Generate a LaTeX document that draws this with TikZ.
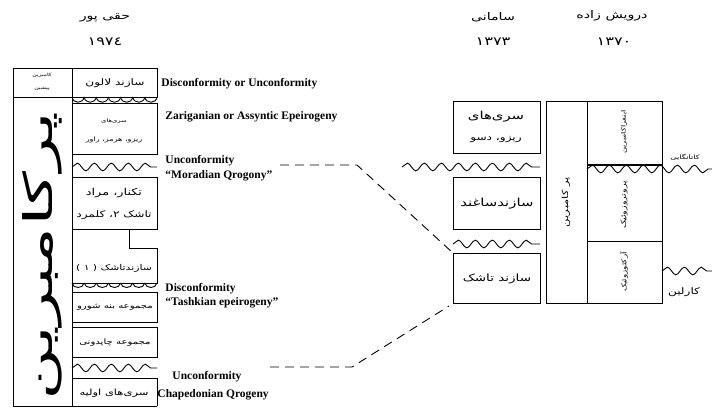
\documentclass[tikz,border=0pt]{standalone}
\usepackage{fontspec}
\usepackage{graphicx}
\usetikzlibrary{decorations.pathmorphing}
\TeXXeTstate=1
\newfontfamily\fa[Script=Arabic, FakeStretch=1.35]{DejaVu Sans}
\newfontfamily\fabig[Script=Arabic]{DejaVu Sans}
\newfontfamily\lat{Liberation Serif}
\newcommand\rtltext[1]{\beginR #1\endR}

\begin{document}
\begin{tikzpicture}[x=1pt,y=-1pt,
  line width=0.9pt,
  unitbox/.style={draw, line width=0.9pt, inner sep=0pt, anchor=north west},
  pers/.style={font=\fa\fontsize{#1}{#1}\selectfont, inner sep=0pt},
  eng/.style={font=\lat\bfseries\fontsize{11.5}{13}\selectfont, anchor=west, inner sep=0pt},
  wavy/.style={decorate, decoration={snake, segment length=17pt, amplitude=3.8pt}},
  dashline/.style={dash pattern=on 9pt off 6pt, line width=0.9pt},
]
\useasboundingbox (0,0) rectangle (712,409);

% ---------- column headings ----------
\node[pers=10.5] (h1) at (105,18) {\rtltext{حقی پور}};
\node[pers=12] (h2) at (105,42) {١٩٧٤};
\node[pers=10.5] (s1) at (493,17) {\rtltext{سامانی}};
\node[pers=12] (s2) at (493,42) {١٣٧٣};
\node[pers=10.5] (d1) at (612,16) {\rtltext{درویش زاده}};
\node[pers=12] (d2) at (614,42) {١٣٧٠};

% ---------- Haghipour column ----------
\draw (157,68) -- (13,68) -- (13,406) -- (157,406);
\draw (72,68) -- (72,406);
\draw (13,97) -- (72,97);
\node[pers=4.5] (kp1) at (42,75) {\rtltext{کامبرین}};
\node[pers=4.5] (kp2) at (42,89) {\rtltext{پیشین}};
\node[rotate=90, inner sep=0pt] (pcbig) at (42,256)
  {\resizebox{288pt}{30pt}{\fabig\rtltext{پرکامبرین}}};

\node[unitbox, minimum width=85, minimum height=29] (lalun) at (72,68) {};
\node[pers=9] at (lalun.center) {\rtltext{سازند لالون}};
% disconformity below Lalun
\foreach \x in {72,84.14,96.28,108.42,120.56,132.7,144.84}
  \draw (\x,97) .. controls (\x+1,104) and (\x+11.14,104) .. (\x+12.14,97);

\node[unitbox, minimum width=85, minimum height=51] (rizu) at (72,103) {};
\node[pers=5] at (114,121) {\rtltext{سری^^^^200cهای}};
\node[pers=6] at (114,140) {\rtltext{ریزو، هرمز، راور}};

\draw[wavy] (72,167) -- (157,167);

\node[unitbox, minimum width=85, minimum height=52] (taknar) at (72,177) {};
\node[pers=9.5] at (114,193) {\rtltext{تکنار، مراد}};
\node[pers=9] at (114,215) {\rtltext{تاشک ٢، کلمرد}};

\draw (129,229) -- (129,248) -- (157,248) -- (157,283) -- (72,283);
\coordinate (tashkL) at (114,268);
\node[pers=8] at (tashkL) {\rtltext{سازندتاشک ( ١ )}};
% disconformity below Tashk
\foreach \x in {72,84.14,96.28,108.42,120.56,132.7,144.84}
  \draw (\x,283) .. controls (\x+1,289) and (\x+11.14,289) .. (\x+12.14,283);

\node[unitbox, minimum width=85, minimum height=30] (boneh) at (72,292) {};
\node[pers=7.5] at (boneh.center) {\rtltext{مجموعه بنه شورو}};
\node[unitbox, minimum width=85, minimum height=30] (chaped) at (72,327) {};
\node[pers=7.5] at (chaped.center) {\rtltext{مجموعه چاپدونی}};

\draw[wavy] (72,368) -- (157,368);

\draw (72,378) -- (157,378) -- (157,406);
\node[pers=8.5] (avalie) at (114,393) {\rtltext{سری^^^^200cهای اولیه}};

% ---------- event labels ----------
\node[eng] (e1) at (161,84) {Disconformity or Unconformity};
\node[eng] (e2) at (165,117) {Zariganian or Assyntic Epeirogeny};
\node[eng] (e3) at (165,161) {Unconformity};
\node[eng] (e4) at (165,176) {“Moradian Qrogony”};
\node[eng] (e5) at (165,289) {Disconformity};
\node[eng] (e6) at (165,303) {“Tashkian epeirogeny”};
\node[eng] (e7) at (172,377) {Unconformity};
\node[eng] (e8) at (157,395) {Chapedonian Qrogeny};

% ---------- Samani column ----------
\node[unitbox, minimum width=87, minimum height=52] (rizuS) at (453,101) {};
\node[pers=11] at (496,117) {\rtltext{سری^^^^200cهای}};
\node[pers=9] at (496,140) {\rtltext{ریزو، دسو}};
\draw[wavy] (402,167) -- (540,167);
\node[unitbox, minimum width=87, minimum height=52] (saghand) at (453,177) {};
\node[pers=11] at (saghand.center) {\rtltext{سازندساغند}};
\draw[wavy] (453,244) -- (540,244);
\node[unitbox, minimum width=87, minimum height=50] (tashkS) at (453,253) {};
\node[pers=10] at (tashkS.center) {\rtltext{سازند تاشک}};

% correlation lines
\coordinate (m0) at (280,165);
\coordinate (m1) at (357,165);
\draw[dashline] (m0) -- (m1) -- (tashkS.north west);
\coordinate (c0) at (270,367);
\coordinate (c1) at (352,367);
\coordinate (c2) at (449,306);
\draw[dashline] (c0) -- (c1) -- (c2);

% ---------- Darvishzadeh column ----------
\node[unitbox, minimum width=41, minimum height=202] (pcol) at (546,101) {};
\node[unitbox, minimum width=75, minimum height=202] (ecol) at (587,101) {};
\node[pers=8.5, rotate=90] at (566,202) {\rtltext{پر کامبرین}};
\draw (587,241) -- (662,241);
\draw[wavy] (587,169) -- (712,169);
\draw[line width=1.5pt] (587,165) -- (662,165);
\draw[wavy] (662,271) -- (712,271);
\node[pers=6, rotate=90] at (624,132) {\rtltext{اینفراکامبرین}};
\node[pers=7, rotate=90] at (624,205) {\rtltext{پروتروزوئیک}};
\node[pers=6.5, rotate=90] at (624,272) {\rtltext{آرکئوزوئیک}};
\node[pers=6, anchor=west] (katanga) at (670,157) {\rtltext{کاتانگایی}};
\node[pers=9] (karelia) at (684,292) {\rtltext{کارلین}};

\end{tikzpicture}
\end{document}
